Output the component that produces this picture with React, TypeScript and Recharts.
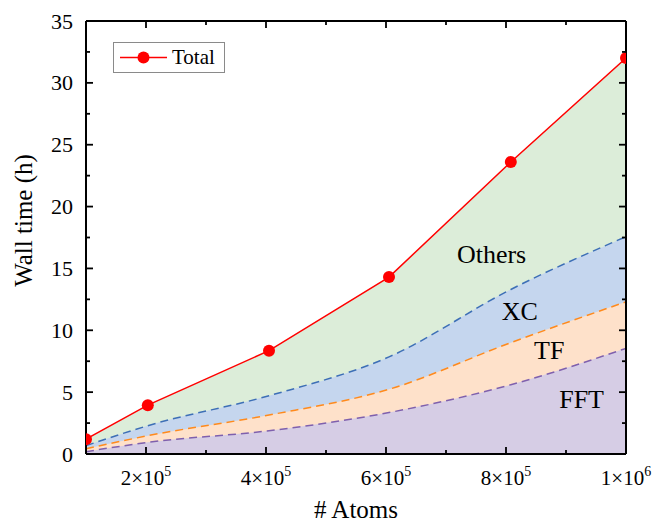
import React from 'react';
import { ComposedChart, Area, Line, XAxis, YAxis, ReferenceDot, Legend } from 'recharts';

// Number of atoms
const atoms = [100000, 203000, 405000, 605000, 808000, 1000000];
// Cumulative boundaries (hours)
const fftTop = [0.19, 0.94, 1.88, 3.35, 5.6, 8.54];
const tfTop = [0.43, 1.48, 3.15, 5.23, 9.0, 12.3];
const xcTop = [0.67, 2.29, 4.71, 7.85, 13.3, 17.57];
const total = [1.2, 3.95, 8.35, 14.3, 23.6, 32.0];

// Axis ticks
const xTicks = [100000, 200000, 300000, 400000, 500000, 600000, 700000, 800000, 900000, 1000000];
const xMajorTicks = [200000, 400000, 600000, 800000, 1000000];
const xTickBase = ['2×10', '4×10', '6×10', '8×10', '1×10'];
const xTickExp = ['5', '5', '5', '5', '6'];
const yTicks = [0, 2.5, 5, 7.5, 10, 12.5, 15, 17.5, 20, 22.5, 25, 27.5, 30, 32.5, 35];
const yMajorTicks = [0, 5, 10, 15, 20, 25, 30, 35];

// Region annotations
const regionNames = ['Others', 'XC', 'TF', 'FFT'];
const regionX = [776000, 823000, 872000, 926000];
const regionY = [16.1, 11.5, 8.35, 4.42];

const FONT = '"Liberation Serif", "Times New Roman", serif';

const data = atoms.map((a, i) => ({
  atoms: a,
  fft: fftTop[i],
  tf: tfTop[i],
  xc: xcTop[i],
  total: total[i],
}));

const XBottomTick = (props: any) => {
  const { x, y, payload } = props;
  const idx = xMajorTicks.indexOf(payload.value);
  const major = idx >= 0;
  return (
    <g>
      <line x1={x} x2={x} y1={y} y2={y - (major ? 7 : 4)} stroke="#000" strokeWidth={1.8} />
      {major ? (
        <text x={x} y={y + 31} textAnchor="middle" fontFamily={FONT} fontSize={21} fill="#000">
          {xTickBase[idx]}
          <tspan dy={-9} fontSize={14}>{xTickExp[idx]}</tspan>
        </text>
      ) : null}
    </g>
  );
};

const XTopTick = (props: any) => {
  const { x, y, payload } = props;
  const major = xMajorTicks.indexOf(payload.value) >= 0;
  return <line x1={x} x2={x} y1={y} y2={y + (major ? 7 : 4)} stroke="#000" strokeWidth={1.8} />;
};

const YLeftTick = (props: any) => {
  const { x, y, payload } = props;
  const major = yMajorTicks.indexOf(payload.value) >= 0;
  return (
    <g>
      <line x1={x} x2={x + (major ? 7 : 4)} y1={y} y2={y} stroke="#000" strokeWidth={1.8} />
      {major ? (
        <text x={x - 13} y={y} textAnchor="end" dominantBaseline="central" fontFamily={FONT} fontSize={22} fill="#000">
          {payload.value}
        </text>
      ) : null}
    </g>
  );
};

const YRightTick = (props: any) => {
  const { x, y, payload } = props;
  const major = yMajorTicks.indexOf(payload.value) >= 0;
  return <line x1={x} x2={x - (major ? 7 : 4)} y1={y} y2={y} stroke="#000" strokeWidth={1.8} />;
};

const LegendBox = () => (
  <div
    style={{
      width: 112,
      height: 31,
      border: '1px solid #8a8a8a',
      boxSizing: 'border-box',
      background: '#fff',
      display: 'flex',
      alignItems: 'center',
    }}
  >
    <svg width={58} height={29} style={{ display: 'block' }}>
      <line x1={6} y1={14.5} x2={53} y2={14.5} stroke="#ff0000" strokeWidth={1.5} />
      <circle cx={29.5} cy={14.5} r={6} fill="#ff0000" />
    </svg>
    <span style={{ fontFamily: FONT, fontSize: 21, color: '#000', lineHeight: '29px' }}>Total</span>
  </div>
);

const axisLineStyle = { stroke: '#000', strokeWidth: 2 };

export default function App() {
  return (
    <div style={{ position: 'absolute', left: 0, top: 0, background: '#fff' }}>
      <ComposedChart width={654} height={522} data={data} margin={{ top: 0, right: 0, bottom: 0, left: 0 }}>
        <XAxis
          dataKey="atoms"
          type="number"
          domain={[100000, 1000000]}
          ticks={xTicks}
          interval={0}
          allowDataOverflow
          height={68}
          tickSize={0}
          tickMargin={0}
          tickLine={false}
          axisLine={axisLineStyle}
          tick={<XBottomTick />}
          label={(p: any) => {
            const vb = p.viewBox;
            return (
              <text x={vb.x + vb.width / 2} y={vb.y + vb.height - 4} textAnchor="middle" fontFamily={FONT} fontSize={25} fill="#000">
                # Atoms
              </text>
            );
          }}
        />
        <XAxis
          xAxisId="top"
          orientation="top"
          dataKey="atoms"
          type="number"
          domain={[100000, 1000000]}
          ticks={xTicks}
          interval={0}
          allowDataOverflow
          height={21}
          tickSize={0}
          tickMargin={0}
          tickLine={false}
          axisLine={axisLineStyle}
          tick={<XTopTick />}
        />
        <YAxis
          type="number"
          domain={[0, 35]}
          ticks={yTicks}
          interval={0}
          allowDataOverflow
          width={86}
          tickSize={0}
          tickMargin={0}
          tickLine={false}
          axisLine={axisLineStyle}
          tick={<YLeftTick />}
          label={(p: any) => {
            const vb = p.viewBox;
            const cx = 23;
            const cy = vb.y + vb.height / 2 - 17;
            return (
              <text
                x={cx}
                y={cy}
                transform={`rotate(-90, ${cx}, ${cy})`}
                textAnchor="middle"
                dominantBaseline="central"
                fontFamily={FONT}
                fontSize={25}
                fill="#000"
              >
                Wall time (h)
              </text>
            );
          }}
        />
        <YAxis
          yAxisId="right"
          orientation="right"
          type="number"
          domain={[0, 35]}
          ticks={yTicks}
          interval={0}
          allowDataOverflow
          width={28}
          tickSize={0}
          tickMargin={0}
          tickLine={false}
          axisLine={axisLineStyle}
          tick={<YRightTick />}
        />
        <Legend
          layout="horizontal"
          verticalAlign="middle"
          align="center"
          wrapperStyle={{ left: 113, top: 42, width: 'auto', height: 'auto' }}
          content={() => <LegendBox />}
        />
        <Area
          dataKey="total"
          type="linear"
          stroke="none"
          fill="#dcedd9"
          fillOpacity={1}
          isAnimationActive={false}
          legendType="none"
          dot={false}
          activeDot={false}
        />
        <Area
          dataKey="xc"
          type="monotone"
          stroke="#3d6fb6"
          strokeWidth={1.5}
          strokeDasharray="8 5"
          fill="#c5d6ee"
          fillOpacity={1}
          isAnimationActive={false}
          legendType="none"
          dot={false}
          activeDot={false}
        />
        <Area
          dataKey="tf"
          type="monotone"
          stroke="#ff8a1c"
          strokeWidth={1.5}
          strokeDasharray="8 5"
          fill="#fee1ca"
          fillOpacity={1}
          isAnimationActive={false}
          legendType="none"
          dot={false}
          activeDot={false}
        />
        <Area
          dataKey="fft"
          type="monotone"
          stroke="#7f60ad"
          strokeWidth={1.5}
          strokeDasharray="8 5"
          fill="#d6cde5"
          fillOpacity={1}
          isAnimationActive={false}
          legendType="none"
          dot={false}
          activeDot={false}
        />
        <Line
          dataKey="total"
          name="Total"
          type="linear"
          stroke="#ff0000"
          strokeWidth={1.5}
          dot={{ r: 6, fill: '#ff0000', stroke: '#ff0000', strokeWidth: 0 }}
          activeDot={false}
          isAnimationActive={false}
        />
        {regionNames.map((name, i) => (
          <ReferenceDot
            key={name}
            x={regionX[i]}
            y={regionY[i]}
            r={1}
            ifOverflow="visible"
            shape={(p: any) => (
              <text x={p.cx} y={p.cy} textAnchor="middle" dominantBaseline="central" fontFamily={FONT} fontSize={26} fill="#000">
                {name}
              </text>
            )}
          />
        ))}
      </ComposedChart>
    </div>
  );
}
